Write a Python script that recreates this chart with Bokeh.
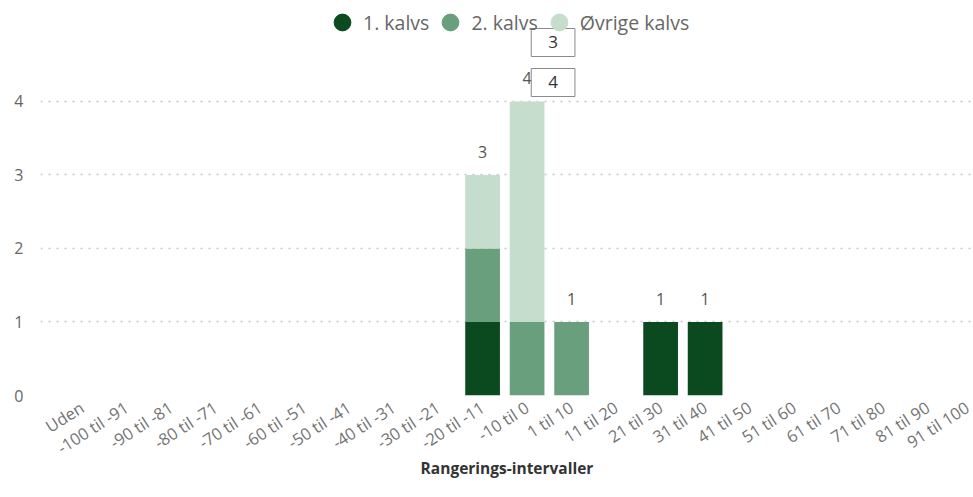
from bokeh.plotting import figure
from bokeh.models import (Range1d, FixedTicker, Legend, LegendItem, Label,
                          ColumnDataSource)
from bokeh.embed import file_html
from bokeh.resources import INLINE
from bokeh.core.properties import value

# ---------------- data ----------------
categories = ["Uden", "-100 til -91", "-90 til -81", "-80 til -71", "-70 til -61",
              "-60 til -51", "-50 til -41", "-40 til -31", "-30 til -21",
              "-20 til -11", "-10 til 0", "1 til 10", "11 til 20", "21 til 30",
              "31 til 40", "41 til 50", "51 til 60", "61 til 70", "71 til 80",
              "81 til 90", "91 til 100"]
kalvs1 = [0, 0, 0, 0, 0, 0, 0, 0, 0, 1, 0, 0, 0, 1, 1, 0, 0, 0, 0, 0, 0]
kalvs2 = [0, 0, 0, 0, 0, 0, 0, 0, 0, 1, 1, 1, 0, 0, 0, 0, 0, 0, 0, 0, 0]
ovrige = [0, 0, 0, 0, 0, 0, 0, 0, 0, 1, 3, 0, 0, 0, 0, 0, 0, 0, 0, 0, 0]
series_names = ["1. kalvs", "2. kalvs", "Øvrige kalvs"]
y_ticks = [0, 1, 2, 3, 4]

colors = ["#0b4a1f", "#6a9f7d", "#c4ddcd"]
FONT = "Open Sans"

x = list(range(len(categories)))
totals = [a + b + c for a, b, c in zip(kalvs1, kalvs2, ovrige)]

source = ColumnDataSource(dict(x=x, k1=kalvs1, k2=kalvs2, ov=ovrige))

p = figure(width=973, height=497, output_backend="svg", toolbar_location=None,
           x_range=Range1d(-0.933, 20.03), y_range=Range1d(0, 5.374),
           min_border_left=40, min_border_right=0, min_border_top=0,
           min_border_bottom=102)
p.outline_line_color = None
p.background_fill_color = "white"

p.vbar_stack(["k1", "k2", "ov"], x="x", width=0.78, color=colors,
             line_color=None, source=source)

# total labels
lab_idx = [i for i, t in enumerate(totals) if t > 0]
lab_src = ColumnDataSource(dict(x=[x[i] for i in lab_idx],
                                y=[totals[i] for i in lab_idx],
                                t=[str(totals[i]) for i in lab_idx]))
p.text(x="x", y="y", text="t", source=lab_src, text_align="center",
       text_baseline="bottom", y_offset=-17, text_font=value(FONT),
       text_font_size="16px", text_color="#555555")

# axes
p.xaxis.ticker = FixedTicker(ticks=x)
p.xaxis.major_label_overrides = {i: c for i, c in zip(x, categories)}
p.xaxis.major_label_orientation = 0.57
p.xaxis.major_label_text_font = FONT
p.xaxis.major_label_text_font_size = "16.5px"
p.xaxis.major_label_text_color = "#737373"
p.xaxis.major_label_standoff = 4
p.xaxis.axis_label = "Rangerings-intervaller"
p.xaxis.axis_label_text_font = FONT
p.xaxis.axis_label_text_font_style = "bold"
p.xaxis.axis_label_text_font_size = "15.5px"
p.xaxis.axis_label_text_color = "#333333"
p.xaxis.axis_label_standoff = -14
p.xaxis.axis_line_color = None
p.xaxis.major_tick_line_color = None
p.xaxis.minor_tick_line_color = None

p.yaxis.ticker = FixedTicker(ticks=y_ticks)
p.yaxis.major_label_text_font = FONT
p.yaxis.major_label_text_font_size = "16px"
p.yaxis.major_label_text_color = "#666666"
p.yaxis.major_label_standoff = 11
p.yaxis.axis_line_color = None
p.yaxis.major_tick_line_color = None
p.yaxis.minor_tick_line_color = None

p.xgrid.grid_line_color = None
p.ygrid.grid_line_color = "#c8c8c8"
p.ygrid.grid_line_dash = "2 6"
p.ygrid.grid_line_width = 1.5

# legend (proxy scatter renderers with no visible points give round glyphs)
nan = float("nan")
items = []
for name, col in zip(series_names, colors):
    r = p.scatter(x=x, y=[nan] * len(x), marker="circle", size=10, color=col)
    items.append(LegendItem(label=name, renderers=[r]))
legend = Legend(items=items, orientation="horizontal", location=(281, 352),
                glyph_width=42, glyph_height=42, label_standoff=-6, spacing=-2,
                padding=0, margin=0, background_fill_alpha=0,
                border_line_color=None, label_text_font=FONT,
                label_text_font_size="19.5px", label_text_color="#666666")
p.add_layout(legend)

# boxed value labels (as in the reference)
i_box = categories.index("-10 til 0")
for txt, yoff in [(str(ovrige[i_box]), 59), (str(totals[i_box]), 19)]:
    p.add_layout(Label(x=x[i_box], y=totals[i_box], x_offset=26, y_offset=yoff,
                       text=txt, text_align="center", text_baseline="middle",
                       text_font=FONT, text_font_size="17px",
                       text_color="#333333", background_fill_color="white",
                       border_line_color="#8a8a8a", border_line_width=1,
                       padding=dict(left=17, right=17, top=8, bottom=8)))

open("out.html", "w").write(file_html(p, INLINE))
